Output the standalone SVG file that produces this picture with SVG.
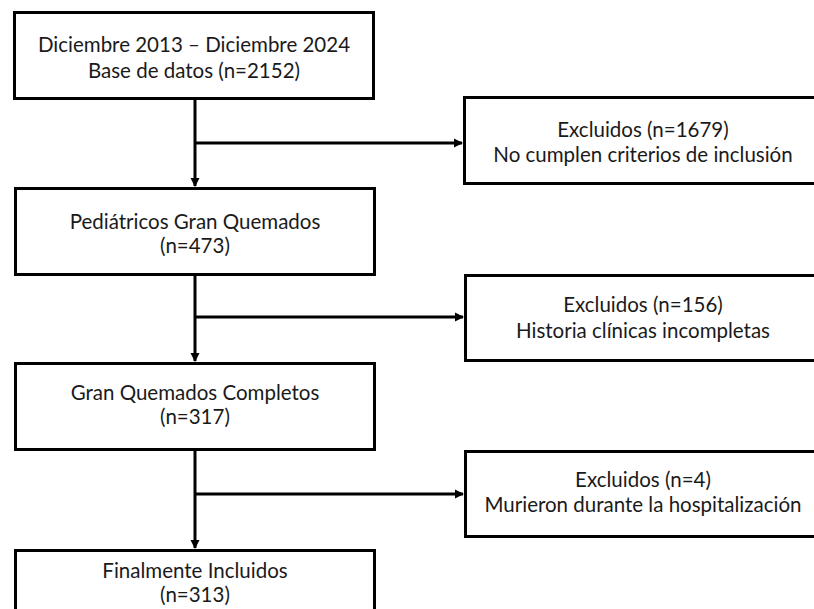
<svg xmlns="http://www.w3.org/2000/svg" width="814" height="609" viewBox="0 0 814 609">
<style>
.box{fill:#fff;stroke:#000;stroke-width:3}
.t{font-family:Lato,"Liberation Sans",sans-serif;font-size:20.5px;fill:#1a1a1a;text-anchor:middle}
.c{stroke:#000;stroke-width:3;fill:none}
</style>
<defs>
<marker id="ah" markerWidth="10" markerHeight="10" refX="8" refY="5" orient="auto" markerUnits="userSpaceOnUse">
<path d="M0,0.5 L9,5 L0,9.5 Z" fill="#000"/>
</marker>
</defs>
<rect width="814" height="609" fill="#fff"/>
<g id="connectors">
<path class="c" d="M195,99 V186" marker-end="url(#ah)"/>
<path class="c" d="M195,143 H462" marker-end="url(#ah)"/>
<path class="c" d="M195,275 V361" marker-end="url(#ah)"/>
<path class="c" d="M195,317 H463" marker-end="url(#ah)"/>
<path class="c" d="M195,450 V548" marker-end="url(#ah)"/>
<path class="c" d="M195,494 H463" marker-end="url(#ah)"/>
</g>
<g id="n1"><rect class="box" x="14.5" y="12.5" width="359" height="86"/>
<text class="t" x="194" y="52">Diciembre 2013 – Diciembre 2024</text>
<text class="t" x="194" y="78">Base de datos (n=2152)</text></g>
<g id="n2"><rect class="box" x="15.5" y="188.5" width="359" height="86"/>
<text class="t" x="195" y="229">Pediátricos Gran Quemados</text>
<text class="t" x="195" y="253">(n=473)</text></g>
<g id="n3"><rect class="box" x="15.5" y="363.5" width="359" height="86"/>
<text class="t" x="195" y="400">Gran Quemados Completos</text>
<text class="t" x="195" y="424">(n=317)</text></g>
<g id="n4"><rect class="box" x="15.5" y="550.5" width="359" height="86"/>
<text class="t" x="195" y="578">Finalmente Incluidos</text>
<text class="t" x="195" y="602">(n=313)</text></g>
<g id="e1"><rect class="box" x="464.5" y="97.5" width="358" height="86"/>
<text class="t" x="643" y="137">Excluidos (n=1679)</text>
<text class="t" x="643" y="162">No cumplen criterios de inclusión</text></g>
<g id="e2"><rect class="box" x="465.5" y="275.5" width="358" height="85"/>
<text class="t" x="643" y="312">Excluidos (n=156)</text>
<text class="t" x="643" y="338">Historia clínicas incompletas</text></g>
<g id="e3"><rect class="box" x="465.5" y="451.5" width="358" height="85"/>
<text class="t" x="643" y="487">Excluidos (n=4)</text>
<text class="t" x="643" y="512">Murieron durante la hospitalización</text></g>
</svg>
